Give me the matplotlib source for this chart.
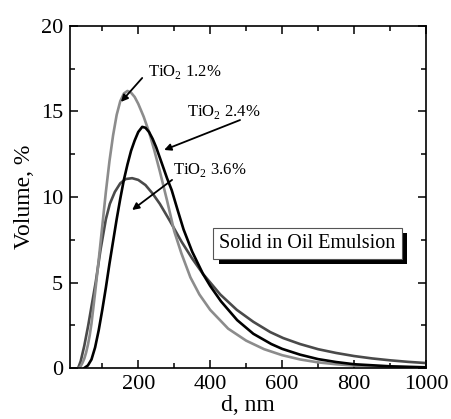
import numpy as np
import matplotlib.pyplot as plt
import matplotlib.patheffects as pe
from matplotlib.ticker import MultipleLocator

plt.rcParams['font.family'] = ['Liberation Serif', 'DejaVu Serif']
plt.rcParams['mathtext.fontset'] = 'custom'
plt.rcParams['mathtext.rm'] = 'Liberation Serif'

# TiO2 1.2 %
d_12 = [35, 40, 45, 50, 55, 60, 65, 70, 80, 90, 100, 110, 120, 130, 140, 150, 160, 170,
        180, 190, 200, 215, 230, 245, 260, 280, 300, 320, 345, 370, 400, 450, 500,
        550, 600, 650, 700, 750, 800, 900, 1000]
v_12 = [0.0, 0.1, 0.3, 0.55, 0.9, 1.35, 1.9, 2.6, 4.4, 6.3, 8.3, 10.3, 12.1, 13.6, 14.8, 15.6, 16.05, 16.2,
        16.1, 15.85, 15.45, 14.7, 13.8, 12.7, 11.5, 9.8, 8.0, 6.7, 5.3, 4.3, 3.4, 2.3, 1.6,
        1.1, 0.75, 0.5, 0.33, 0.22, 0.14, 0.06, 0.02]

# TiO2 2.4 %
d_24 = [50, 60, 70, 80, 90, 100, 110, 120, 130, 140, 150, 160, 170, 180, 190, 200, 211,
        220, 230, 240, 250, 265, 280, 293, 310, 326, 350, 380, 400, 430, 475, 520,
        570, 600, 650, 700, 750, 800, 900, 1000]
v_24 = [0.0, 0.15, 0.5, 1.2, 2.2, 3.4, 4.7, 6.1, 7.4, 8.7, 9.9, 11.0, 11.9, 12.7, 13.3, 13.8, 14.1,
        14.05, 13.8, 13.4, 12.9, 12.0, 11.1, 10.4, 9.2, 8.1, 6.8, 5.5, 4.8, 3.9, 2.8, 2.0,
        1.4, 1.12, 0.78, 0.52, 0.35, 0.22, 0.1, 0.04]

# TiO2 3.6 %
d_36 = [33, 40, 50, 61, 70, 82, 95, 110, 121, 135, 150, 165, 183, 200, 220, 240, 260,
        288, 320, 350, 380, 428, 474, 520, 567, 603, 650, 700, 750, 800, 850, 900,
        950, 1000]
v_36 = [0.0, 0.4, 1.3, 2.5, 3.6, 5.05, 6.9, 8.7, 9.6, 10.3, 10.8, 11.05, 11.1, 11.0, 10.7, 10.2, 9.6,
        8.6, 7.4, 6.4, 5.5, 4.3, 3.4, 2.7, 2.1, 1.75, 1.4, 1.1, 0.88, 0.7, 0.56, 0.45,
        0.36, 0.29]

fig = plt.figure(figsize=(4.51, 4.19), dpi=100)
ax = fig.add_axes([0.155, 0.1217, 0.7896, 0.8163])

ax.plot(d_36, v_36, color='#4a4a4a', lw=1.9)
ax.plot(d_12, v_12, color='#8c8c8c', lw=1.9)
ax.plot(d_24, v_24, color='black', lw=1.9)

ax.set_xlim(10, 1000)
ax.set_ylim(0, 20)
ax.xaxis.set_major_locator(MultipleLocator(200))
ax.xaxis.set_minor_locator(MultipleLocator(100))
ax.yaxis.set_major_locator(MultipleLocator(5))
ax.yaxis.set_minor_locator(MultipleLocator(2.5))
ax.tick_params(which='both', direction='in', top=True, right=True, labelsize=16, width=1.1)
ax.tick_params(which='major', length=6, pad=5)
ax.tick_params(which='minor', length=3.5)
ax.set_xticks([200, 400, 600, 800, 1000])
for s in ax.spines.values():
    s.set_linewidth(1.2)

ax.set_xlabel('d, nm', fontsize=17, labelpad=1)
ax.set_ylabel('Volume, %', fontsize=17, labelpad=4)

arrow = dict(arrowstyle='-|>', color='black', lw=1.3, mutation_scale=10, shrinkA=0, shrinkB=0)
ax.annotate('', xy=(152, 15.56), xytext=(211, 16.96), arrowprops=arrow)
ax.annotate('', xy=(272, 12.75), xytext=(483, 14.5), arrowprops=arrow)
ax.annotate('', xy=(183, 9.24), xytext=(294, 11.0), arrowprops=arrow)
ax.text(227, 17.3, r'TiO$_2$ 1.2%', fontsize=12, va='center')
ax.text(336, 14.97, r'TiO$_2$ 2.4%', fontsize=12, va='center')
ax.text(297, 11.58, r'TiO$_2$ 3.6%', fontsize=12, va='center')

t = ax.text(0.42, 0.365, 'Solid in Oil Emulsion', transform=ax.transAxes, fontsize=14.5,
            va='center', ha='left',
            bbox=dict(boxstyle='square,pad=0.3', fc='white', ec='#555555', lw=0.8))
t.get_bbox_patch().set_path_effects([
    pe.SimplePatchShadow(offset=(4, -4), shadow_rgbFace='black', alpha=1.0), pe.Normal()])

fig.savefig('out.png', dpi=100)
